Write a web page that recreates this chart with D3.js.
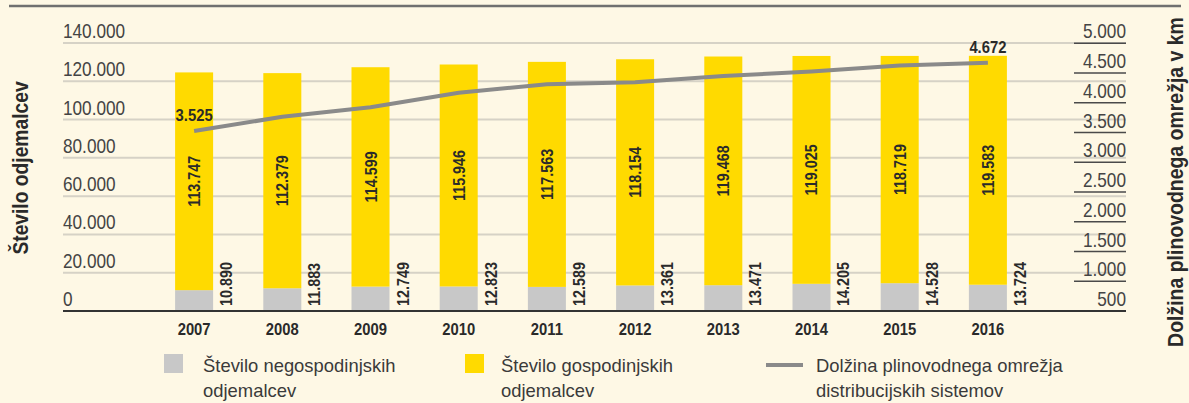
<!DOCTYPE html>
<html>
<head>
<meta charset="utf-8">
<script src="https://cdn.jsdelivr.net/npm/d3@7"></script>
<style>
  html, body { margin: 0; padding: 0; background: #FEF8E5; }
  svg { display: block; }
  text { font-family: "Liberation Sans", Arial, sans-serif; }
</style>
</head>
<body>
<svg id="chart" width="1189" height="403"></svg>
<script>
const years = ["2007","2008","2009","2010","2011","2012","2013","2014","2015","2016"];
const nonHousehold = [10890, 11883, 12749, 12823, 12589, 13361, 13471, 14205, 14528, 13724];
const household = [113747, 112379, 114599, 115946, 117563, 118154, 119468, 119025, 118719, 119583];
const networkKm = [3525, 3765, 3925, 4170, 4310, 4345, 4450, 4525, 4625, 4672];
const leftTicks = [0, 20000, 40000, 60000, 80000, 100000, 120000, 140000];
const rightTicks = [500, 1000, 1500, 2000, 2500, 3000, 3500, 4000, 4500, 5000];
const legendLabels = [
  ["Število negospodinjskih", "odjemalcev"],
  ["Število gospodinjskih", "odjemalcev"],
  ["Dolžina plinovodnega omrežja", "distribucijskih sistemov"]
];
const leftTitle = "Število odjemalcev";
const rightTitle = "Dolžina plinovodnega omrežja v km";

const fmt = v => d3.format(",")(v).replace(/,/g, ".");

const svg = d3.select("#chart");
const C = { yellow: "#FFDA00", gray: "#C8C8C8", line: "#8A8A8A", grid: "#D6D2C6", text: "#2A2A2A", tick: "#444" };
const SX = 0.87; // condensed look

const x = d3.scaleBand().domain(years).range([131, 1051]).paddingInner(0.569).paddingOuter(0.5);
const y = d3.scaleLinear().domain([0, 140000]).range([311, 43]);
const y2 = d3.scaleLinear().domain([500, 5000]).range([311, 43.3]);
const gx0 = 63, gx1 = 1126;
const tf = (px, py, rot, sx) => `translate(${px},${py})` + (rot ? ` rotate(${rot})` : "") + ` scale(${sx},1)`;

// top rule
svg.append("line").attr("x1", 9).attr("x2", 1181).attr("y1", 6).attr("y2", 6)
  .attr("stroke", "#707070").attr("stroke-width", 2.5);

// gridlines
svg.append("g").selectAll("line").data(leftTicks.filter(d => d > 0)).join("line")
  .attr("x1", gx0).attr("x2", gx1).attr("y1", d => y(d)).attr("y2", d => y(d))
  .attr("stroke", C.grid).attr("stroke-width", 2);

// left tick labels
svg.append("g").selectAll("text").data(leftTicks).join("text")
  .attr("transform", d => tf(gx0, y(d) - 5, 0, 0.86))
  .attr("font-size", 20).attr("fill", C.tick)
  .text(d => fmt(d));

// right ticks
svg.append("g").selectAll("line").data(rightTicks.filter(d => d > 500)).join("line")
  .attr("x1", 1074).attr("x2", gx1).attr("y1", d => y2(d)).attr("y2", d => y2(d))
  .attr("stroke", "#4a4a4a").attr("stroke-width", 1.6);
svg.append("g").selectAll("text").data(rightTicks).join("text")
  .attr("transform", d => tf(gx1, y2(d) - 5, 0, 0.86))
  .attr("text-anchor", "end")
  .attr("font-size", 20).attr("fill", C.tick)
  .text(d => fmt(d));

// bars
const bars = svg.append("g");
bars.selectAll("rect.g").data(years).join("rect").attr("class", "g")
  .attr("x", d => x(d)).attr("width", x.bandwidth())
  .attr("y", (d, i) => y(nonHousehold[i])).attr("height", (d, i) => y(0) - y(nonHousehold[i]))
  .attr("fill", C.gray);
bars.selectAll("rect.h").data(years).join("rect").attr("class", "h")
  .attr("x", d => x(d)).attr("width", x.bandwidth())
  .attr("y", (d, i) => y(nonHousehold[i] + household[i]))
  .attr("height", (d, i) => y(nonHousehold[i]) - y(nonHousehold[i] + household[i]))
  .attr("fill", C.yellow);

// baseline
svg.append("line").attr("x1", gx0).attr("x2", gx1).attr("y1", y(0)).attr("y2", y(0))
  .attr("stroke", "#333").attr("stroke-width", 2);

// household labels (rotated, centered in yellow segment)
svg.append("g").selectAll("text").data(years).join("text")
  .attr("transform", (d, i) => {
    const cx = x(d) + x.bandwidth() / 2;
    const cy = (y(nonHousehold[i]) + y(nonHousehold[i] + household[i])) / 2;
    return tf(cx + 6, cy, -90, SX);
  })
  .attr("text-anchor", "middle").attr("font-size", 16.5).attr("font-weight", "bold")
  .attr("fill", C.text)
  .text((d, i) => fmt(household[i]));

// non-household labels
svg.append("g").selectAll("text").data(years).join("text")
  .attr("transform", d => tf(x(d) + x.bandwidth() / 2 + 38, y(0) - 5, -90, SX))
  .attr("text-anchor", "start").attr("font-size", 16.5).attr("font-weight", "bold")
  .attr("fill", C.text)
  .text((d, i) => fmt(nonHousehold[i]));

// line
const line = d3.line().x((d, i) => x(years[i]) + x.bandwidth() / 2).y(d => y2(d));
svg.append("path").datum(networkKm).attr("d", line)
  .attr("fill", "none").attr("stroke", C.line).attr("stroke-width", 4);

// line end labels
[0, networkKm.length - 1].forEach(i => {
  svg.append("text")
    .attr("transform", tf(x(years[i]) + x.bandwidth() / 2, y2(networkKm[i]) - 10, 0, SX))
    .attr("text-anchor", "middle").attr("font-size", 17).attr("font-weight", "bold")
    .attr("fill", C.text).text(fmt(networkKm[i]));
});

// year labels
svg.append("g").selectAll("text").data(years).join("text")
  .attr("transform", d => tf(x(d) + x.bandwidth() / 2, 335, 0, SX))
  .attr("text-anchor", "middle").attr("font-size", 17).attr("font-weight", "bold")
  .attr("fill", C.text).text(d => d);

// axis titles
svg.append("text").attr("transform", tf(28, 168, -90, 0.875))
  .attr("text-anchor", "middle").attr("font-size", 22).attr("font-weight", "bold")
  .attr("fill", C.text).text(leftTitle);
svg.append("text").attr("transform", tf(1183, 182, -90, 0.885))
  .attr("text-anchor", "middle").attr("font-size", 22).attr("font-weight", "bold")
  .attr("fill", C.text).text(rightTitle);

// legend
const lg = svg.append("g");
const legX = [164, 465, 766];
const textX = [203, 501, 816];
lg.append("rect").attr("x", legX[0]).attr("y", 354).attr("width", 19).attr("height", 19).attr("fill", C.gray);
lg.append("rect").attr("x", legX[1]).attr("y", 354).attr("width", 19).attr("height", 19).attr("fill", C.yellow);
lg.append("line").attr("x1", legX[2]).attr("x2", legX[2] + 37).attr("y1", 365).attr("y2", 365)
  .attr("stroke", C.line).attr("stroke-width", 4);
legendLabels.forEach((lines, k) => {
  const t = lg.append("text").attr("transform", tf(textX[k], 372, 0, 0.97))
    .attr("font-size", 19).attr("fill", "#3a3a3a");
  lines.forEach((s, j) => t.append("tspan").attr("x", 0).attr("dy", j === 0 ? 0 : 25).text(s));
});
</script>
</body>
</html>
